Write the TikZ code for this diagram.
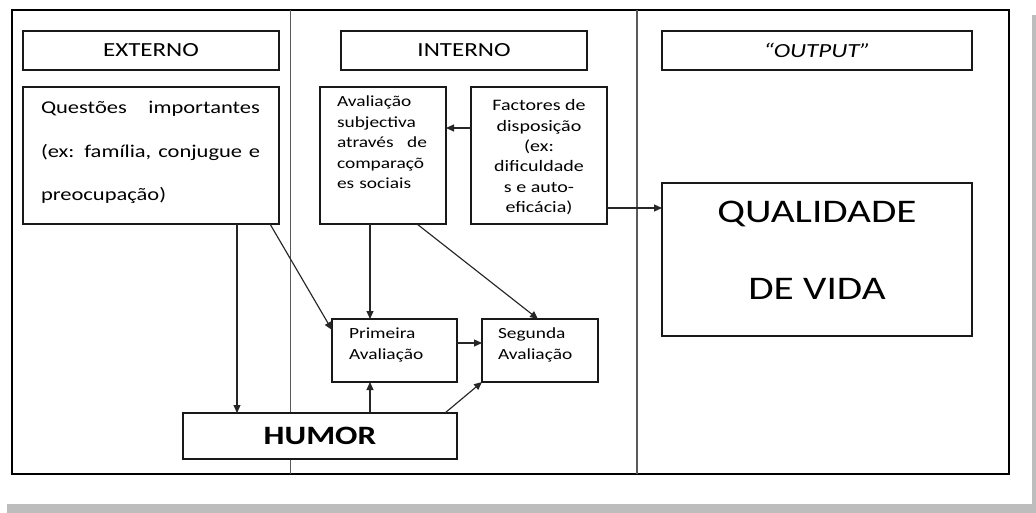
\documentclass[tikz,border=0pt]{standalone}
\usepackage{fontspec}
\setmainfont{Carlito}[FakeStretch=1.25]
\usetikzlibrary{arrows.meta}
\tikzset{
  bx/.style={draw=black!90, line width=1.4pt, fill=white, inner sep=0pt, outer sep=0pt},
  txt/.style={inner sep=0pt, outer sep=0pt},
  arr/.style={draw=black!85, line width=1.15pt, -{Triangle[length=8pt,width=7pt]}},
  div/.style={draw=black!65, line width=1.9pt},
  hdr/.style={font=\fontsize{20}{24}\selectfont},
  small/.style={font=\fontsize{15.5}{20.5}\selectfont},
}
\begin{document}
\begin{tikzpicture}[x=1pt,y=-1pt]
\useasboundingbox (0,0) rectangle (1036,513);
% shadow
\fill[black!26] (1032,15) rectangle (1036,513);
\fill[black!26] (7,504) rectangle (1036,513);
% frame
\node[draw=black, line width=1.5pt, inner sep=0pt, outer sep=0pt, minimum width=997pt, minimum height=464pt] (frame) at (510.5,242) {};
\draw[div] ([xshift=278.5pt]frame.north west) -- ([xshift=278.5pt]frame.south west);
\draw[div] ([xshift=625pt]frame.north west) -- ([xshift=625pt]frame.south west);
% headers
\node[bx, hdr, minimum width=256pt, minimum height=39pt] (ext) at (151,50.5) {EXTERNO};
\node[bx, hdr, minimum width=246pt, minimum height=39pt] (int) at (464,50.5) {INTERNO};
\node[bx, hdr, minimum width=310pt, minimum height=39pt] (out) at (817,50.5) {\itshape “OUTPUT”};
% boxes
\node[bx, minimum width=256pt, minimum height=137pt] (qu) at (151,155.5) {};
\node[txt, anchor=north west, text width=219pt, align=justify, font=\fontsize{18}{43.5}\selectfont] (qut) at (41,101.5) {\hyphenpenalty=10000 Questões importantes (ex: família, conjugue e preocupação)};
\node[bx, minimum width=126pt, minimum height=137pt] (av) at (383,155.5) {};
\node[txt, small, anchor=north west, text width=90pt, align=left] (avt) at (337,96) {Avaliação\\subjectiva\\através\hfill de\\comparaçõ\\es sociais};
\node[bx, minimum width=136pt, minimum height=137pt] (fa) at (539,155.5) {};
\node[txt, anchor=north, align=center, font=\fontsize{16}{20.4}\selectfont] (fat) at (539,99.5) {Factores de\\disposição\\(ex:\\dificuldade\\s e auto-\\eficácia)};
\node[bx, minimum width=310pt, minimum height=153pt] (ql) at (817,259.5) {};
\node[txt, align=center, font=\fontsize{33}{77}\selectfont] (qlt) at (817,250) {QUALIDADE\\DE VIDA};
\node[bx, minimum width=125pt, minimum height=63pt] (pr) at (394.5,350.5) {};
\node[txt, small, anchor=north west, align=left] (prt) at (349,328) {Primeira\\Avaliação};
\node[bx, minimum width=116pt, minimum height=63pt] (sg) at (540,350.5) {};
\node[txt, small, anchor=north west, align=left] (sgt) at (498,328) {Segunda\\Avaliação};
\node[bx, minimum width=274pt, minimum height=46pt, font=\fontsize{26.5}{30}\selectfont\bfseries] (hu) at (320,436) {HUMOR};
% arrows
\draw[arr] ([xshift=214pt]qu.south west) -- ([xshift=54pt]hu.north west);
\draw[arr] ([xshift=247pt]qu.south west) -- ([yshift=-11pt]pr.north west);
\draw[arr] ([xshift=50pt]av.south west) -- ([xshift=38pt]pr.north west);
\draw[arr] ([xshift=97pt]av.south west) -- ([xshift=56pt]sg.north west);
\draw[arr] ([yshift=27.5pt]fa.west) -- ([yshift=27.5pt]fa.west -| av.east);
\draw[arr] ([yshift=-52.5pt]fa.east) -- ([yshift=-52.5pt]fa.east -| ql.west);
\draw[arr] ([yshift=7.5pt]pr.east) -- ([yshift=7.5pt]pr.east -| sg.west);
\draw[arr] ([xshift=187pt]hu.north west) -- ([xshift=187pt]hu.north west |- pr.south);
\draw[arr] ([xshift=262pt]hu.north west) -- (sg.south west);
\end{tikzpicture}
\end{document}
